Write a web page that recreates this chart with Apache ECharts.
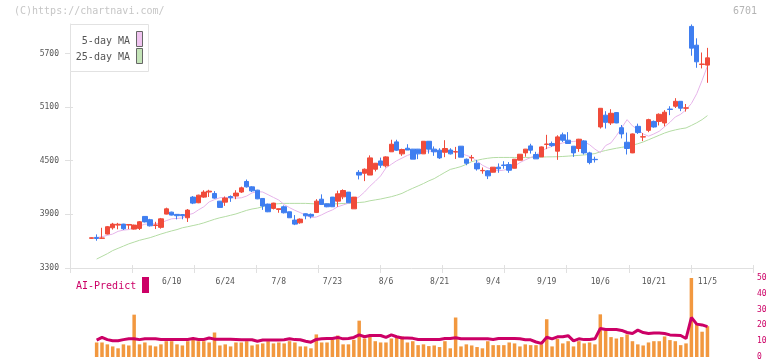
<!DOCTYPE html>
<html><head><meta charset="utf-8">
<script src="https://cdn.jsdelivr.net/npm/echarts@6/dist/echarts.min.js"></script>
<style>html,body{margin:0;padding:0;background:#fff}#c{width:772px;height:361px}</style>
</head><body><div id="c"></div>
<script>
const dates = ['5/20','5/21','5/22','5/23','5/26','5/27','5/28','5/29','5/30',
'6/2','6/3','6/4','6/5','6/6','6/9','6/10','6/11','6/12','6/13','6/16','6/17','6/18','6/19','6/20','6/23','6/24','6/25','6/26','6/27','6/30',
'7/1','7/2','7/3','7/4','7/7','7/8','7/9','7/10','7/11','7/14','7/15','7/16','7/17','7/18','7/22','7/23','7/24','7/25','7/28','7/29','7/30','7/31',
'8/1','8/4','8/5','8/6','8/7','8/8','8/12','8/13','8/14','8/15','8/18','8/19','8/20','8/21','8/22','8/25','8/26','8/27','8/28','8/29',
'9/1','9/2','9/3','9/4','9/5','9/8','9/9','9/10','9/11','9/12','9/16','9/17','9/18','9/19','9/22','9/24','9/25','9/26','9/29','9/30',
'10/1','10/2','10/3','10/6','10/7','10/8','10/9','10/10','10/14','10/15','10/16','10/17','10/20','10/21','10/22','10/23','10/24','10/27','10/28','10/29','10/30','10/31',
'11/4','11/5'];
const tickLabels = ['6/10','6/24','7/8','7/23','8/6','8/21','9/4','9/19','10/6','10/21','11/5'];
const priceTicks = [3300, 3900, 4500, 5100, 5700];

const openP = [
3632,3642,3632,3680,3750,3780,3791,3780,3735,3743,
3877,3840,3775,3755,3903,3925,3900,3898,3862,4093,
4030,4093,4150,4134,4048,4037,4100,4105,4150,4268,
4208,4171,4078,4015,3967,3955,3985,3929,3836,3806,
3907,3900,3922,4070,4018,4093,4048,4096,4149,3962,
4370,4360,4340,4405,4498,4443,4600,4711,4577,4640,
4630,4630,4577,4718,4630,4618,4595,4620,4598,4663,
4517,4532,4472,4388,4387,4372,4428,4452,4457,4416,
4506,4588,4666,4570,4543,4683,4693,4607,4790,4730,
4663,4637,4722,4588,4516,4878,5010,4923,5039,4870,
4707,4588,4885,4765,4840,4940,4940,4923,5078,5110,
5165,5088,6003,5793,5578,5570];
const closeP = [
3638,3630,3636,3762,3791,3790,3739,3787,3780,3817,
3816,3772,3782,3850,3962,3892,3885,3885,3948,4026,
4115,4149,4160,4082,3978,4082,4085,4138,4197,4208,
4163,4074,3993,3929,4026,3963,3918,3862,3791,3847,
3884,3880,4048,4011,3985,3985,4130,4167,4030,4093,
4340,4405,4532,4472,4450,4543,4685,4618,4626,4620,
4518,4577,4718,4630,4600,4532,4637,4577,4602,4540,
4472,4536,4409,4392,4331,4428,4410,4448,4394,4517,
4573,4630,4618,4521,4655,4687,4670,4767,4730,4693,
4588,4741,4588,4480,4512,5087,4930,5031,4923,4800,
4637,4800,4815,4769,4960,4878,5020,5043,5074,5165,
5088,5092,5760,5607,5582,5651];
const lowP = [
3628,3605,3625,3675,3730,3733,3725,3735,3730,3725,
3810,3765,3736,3740,3900,3888,3844,3845,3815,4015,
4025,4085,4095,4075,3975,3995,4040,4070,4140,4200,
4150,4070,3950,3925,3955,3918,3910,3860,3780,3795,
3845,3855,3915,4011,3980,3985,3985,4070,4030,3962,
4291,4272,4340,4380,4420,4425,4600,4610,4555,4620,
4518,4518,4575,4580,4555,4520,4540,4570,4520,4540,
4450,4495,4390,4355,4295,4370,4365,4410,4365,4415,
4505,4545,4580,4521,4543,4630,4655,4510,4710,4693,
4543,4600,4570,4460,4480,4860,4860,4900,4920,4750,
4570,4585,4800,4720,4820,4870,4895,4885,5010,5090,
5055,5050,5675,5540,5533,5372];
const highP = [
3642,3676,3750,3770,3805,3805,3795,3790,3785,3825,
3880,3850,3817,3860,3975,3930,3903,3900,3960,4105,
4120,4170,4175,4160,4050,4100,4112,4170,4210,4290,
4215,4175,4080,4020,4030,3965,4000,3930,3892,3855,
3910,3910,4070,4124,4020,4095,4165,4180,4150,4095,
4395,4414,4560,4475,4535,4550,4735,4735,4635,4685,
4632,4632,4720,4720,4660,4640,4730,4640,4655,4665,
4525,4565,4510,4425,4395,4430,4470,4495,4485,4520,
4575,4632,4690,4600,4660,4790,4715,4785,4815,4820,
4665,4745,4730,4600,4545,5090,5054,5077,5045,4900,
4815,4805,4915,4810,4970,4950,5030,5066,5110,5200,
5165,5135,6025,5870,5711,5763];

const ma5 = [
null,3640,3650,3665,3680,3710,3724,3730,3750,3770,
3790,3795,3795,3805,3830,3850,3855,3860,3895,3910,
3950,3985,4040,4065,4086,4090,4088,4082,4085,4105,
4140,4155,4150,4120,4090,4060,4010,3975,3945,3920,
3890,3865,3870,3895,3925,3950,3985,4005,4025,4060,
4097,4150,4215,4270,4330,4420,4460,4500,4530,4560,
4580,4595,4605,4610,4602,4600,4615,4615,4600,4582,
4560,4540,4495,4450,4420,4400,4388,4395,4410,4440,
4480,4510,4535,4565,4610,4640,4660,4680,4700,4712,
4715,4725,4710,4680,4630,4590,4670,4700,4780,4870,
4960,4890,4850,4800,4775,4800,4830,4880,4930,4990,
5020,5070,5140,5250,5400,5560];
const ma25 = [
null,3400,3430,3460,3495,3520,3545,3570,3590,3610,
3625,3640,3660,3680,3698,3715,3730,3750,3762,3775,
3788,3805,3825,3845,3862,3875,3890,3905,3925,3945,
3960,3970,3985,4005,4015,4020,4023,4023,4023,4023,
4023,4020,4017,4017,4017,4017,4019,4022,4023,4028,
4033,4038,4052,4062,4072,4085,4098,4115,4135,4165,
4192,4218,4245,4275,4300,4335,4370,4403,4418,4435,
4460,4490,4505,4518,4528,4535,4537,4537,4537,4537,
4537,4537,4537,4539,4541,4543,4544,4545,4548,4552,
4556,4560,4565,4572,4580,4600,4615,4628,4640,4650,
4660,4675,4690,4710,4735,4760,4785,4810,4830,4845,
4858,4867,4895,4925,4960,5005];

const volume = [
null,9.2,9.2,8,6.7,5.5,8,7.3,26.8,8,
9.2,7.3,6.7,8,10,10,8,7.3,10,10.9,
10,10,9.2,15.5,7.3,8,6.7,9.2,9.2,10,
7.3,8,8.6,10,8.6,9.2,8.6,10,9.2,6.7,
6.7,5.5,14.3,9.2,9.2,10.9,13.6,8,8,10.9,
23,11.7,13.6,10,9.2,9.2,11.7,12.8,13,9.2,
10,7.5,8,6.9,7.3,6.3,10,5.5,25,6.7,
8,7.3,6.3,5.5,10,7.5,7.5,7.5,9.2,8.6,
6.7,8,7.5,7.5,8,23.9,6.7,11.5,8.6,10,
6.7,10,8.6,9.2,8,27,16.8,12.6,11.7,12.6,
14.3,10,8,7.3,9.2,10,10,13,10.7,10,
7.5,8.6,50,21,16,19.5];
const aiPredict = [
null,10.7,12.4,11,10.3,10.3,11,11.5,11.5,11,
11.5,11.5,11.5,11.1,11.1,11.1,11.1,11.1,11.1,11.7,
11.1,11.1,12,11.3,11.3,11.3,11.3,11.1,10.9,10.9,
10.9,10,10.7,10.7,10.7,10.7,10.9,11.5,11,10.9,
10,9.4,11.1,11.5,11.7,11.7,12.4,11.5,11.7,12.4,
14,12.8,13.6,13.6,13.6,12.4,14,12.8,12,12,
11.8,11.1,11.1,11.1,11.1,11.1,11.7,11.7,12.2,11.5,
11.5,11.5,11.5,11.5,11.5,11.1,11.7,11.7,11.7,11.7,
11.5,10.9,10.9,9.5,8.6,12.5,11.5,12.8,12.8,13.5,
10.2,11.5,11,11.1,11.5,18,17.4,17.4,17.4,16.8,
15.5,14.9,17,15.5,14.9,15.2,15.2,14.9,14,13.8,
13.6,11.7,25,20.8,20.3,19.2];

const pad = ['_1','_2','_3','_4','_5','_6','_7','_8'];
const cats = dates.concat(pad);
const candles = dates.map((d, i) => [openP[i], closeP[i], lowP[i], highP[i]]);

const RED = '#f04b3a', BLUE = '#3f7ef0', AXIS = '#e0e0e0', MONO = 'DejaVu Sans Mono';
const PMIN = 3300, PMAX = 6030;
const chart = echarts.init(document.getElementById('c'), null, {renderer: 'canvas'});
chart.setOption({
  animation: false,
  textStyle: {fontFamily: MONO},
  grid: [
    {left: 70, right: 19, top: 24, bottom: 93},
    {left: 88.6, right: 19, top: 24, bottom: 93},
    {left: 88.6, right: 19, top: 278, bottom: 3},
    {left: 70, right: 19, top: 24, bottom: 93}
  ],
  xAxis: [
    {type: 'value', gridIndex: 0, min: 0, max: 11, interval: 1,
     axisLine: {lineStyle: {color: AXIS}}, axisTick: {length: 5, lineStyle: {color: AXIS}},
     axisLabel: {show: false}, splitLine: {show: false}},
    {type: 'category', gridIndex: 1, data: cats, boundaryGap: true,
     axisLine: {show: false}, axisTick: {show: false}, splitLine: {show: false},
     axisLabel: {interval: (i, v) => tickLabels.includes(v), margin: 10, fontSize: 8, color: '#555', fontFamily: MONO}},
    {type: 'category', gridIndex: 2, data: cats, boundaryGap: true, show: false},
    {type: 'value', gridIndex: 3, min: 0, max: 11, interval: 1,
     axisLine: {show: false}, axisTick: {inside: true, length: 3, lineStyle: {color: AXIS}},
     axisLabel: {show: false}, splitLine: {show: false}}
  ],
  yAxis: [
    {type: 'value', gridIndex: 0, min: PMIN, max: PMAX,
     axisLine: {show: true, lineStyle: {color: AXIS}},
     axisTick: {show: true, length: 5, lineStyle: {color: AXIS}, customValues: priceTicks},
     axisLabel: {customValues: priceTicks, formatter: v => String(v), margin: 11, fontSize: 8, color: '#555', fontFamily: MONO},
     splitLine: {show: false}},
    {type: 'value', gridIndex: 1, min: PMIN, max: PMAX, show: false},
    {type: 'value', gridIndex: 2, min: 0, max: 50, interval: 10, position: 'right',
     axisLine: {show: false}, axisTick: {show: false}, splitLine: {show: false},
     axisLabel: {color: '#cc0066', fontSize: 8, margin: 4, fontFamily: MONO}},
    {type: 'value', gridIndex: 3, min: PMIN, max: PMAX,
     axisLine: {show: false},
     axisTick: {show: true, inside: true, length: 3, lineStyle: {color: AXIS}, customValues: priceTicks},
     axisLabel: {show: false}, splitLine: {show: false}}
  ],
  series: [
    {type: 'line', name: '25-day MA', xAxisIndex: 1, yAxisIndex: 1, data: ma25, symbol: 'none',
     lineStyle: {color: '#b4dca4', width: 1}, z: 2},
    {type: 'line', name: '5-day MA', xAxisIndex: 1, yAxisIndex: 1, data: ma5, symbol: 'none',
     lineStyle: {color: '#e6b4ea', width: 1}, z: 2},
    {type: 'candlestick', xAxisIndex: 1, yAxisIndex: 1, data: candles, barWidth: 5, z: 3,
     itemStyle: {color: RED, color0: BLUE, borderColor: RED, borderColor0: BLUE, borderWidth: 1}},
    {type: 'bar', xAxisIndex: 2, yAxisIndex: 2, data: volume, barWidth: 3.5,
     itemStyle: {color: '#f2983f'}},
    {type: 'line', xAxisIndex: 2, yAxisIndex: 2, data: aiPredict, symbol: 'none',
     lineStyle: {color: '#cc0066', width: 3}, z: 3}
  ],
  graphic: [
    {type: 'text', left: 14, top: 6, style: {text: '(C)https://chartnavi.com/', fill: '#c6c6c6', font: '10px ' + MONO}},
    {type: 'text', right: 15, top: 6, style: {text: '6701', fill: '#b4b4b4', font: '10px ' + MONO}},
    {type: 'rect', shape: {x: 70.5, y: 24.5, width: 78, height: 47}, style: {fill: '#fff', stroke: '#e2e2e2', lineWidth: 1}, z: 10},
    {type: 'text', z: 11, style: {text: '5-day MA', x: 130, y: 41.5, textAlign: 'right', textVerticalAlign: 'middle', fill: '#555', font: '10px ' + MONO}},
    {type: 'text', z: 11, style: {text: '25-day MA', x: 130, y: 57, textAlign: 'right', textVerticalAlign: 'middle', fill: '#555', font: '10px ' + MONO}},
    {type: 'rect', z: 11, shape: {x: 136.5, y: 31.5, width: 6, height: 15}, style: {fill: '#f0c4f0', stroke: '#666', lineWidth: 1}},
    {type: 'rect', z: 11, shape: {x: 136.5, y: 48.5, width: 6, height: 15}, style: {fill: '#c4e4b8', stroke: '#666', lineWidth: 1}},
    {type: 'text', z: 11, style: {text: 'AI-Predict', x: 76, y: 286, textVerticalAlign: 'middle', fill: '#cc0066', font: '10px ' + MONO}},
    {type: 'rect', z: 11, shape: {x: 142, y: 277, width: 7, height: 16}, style: {fill: '#cc0066'}}
  ]
});
</script></body></html>
